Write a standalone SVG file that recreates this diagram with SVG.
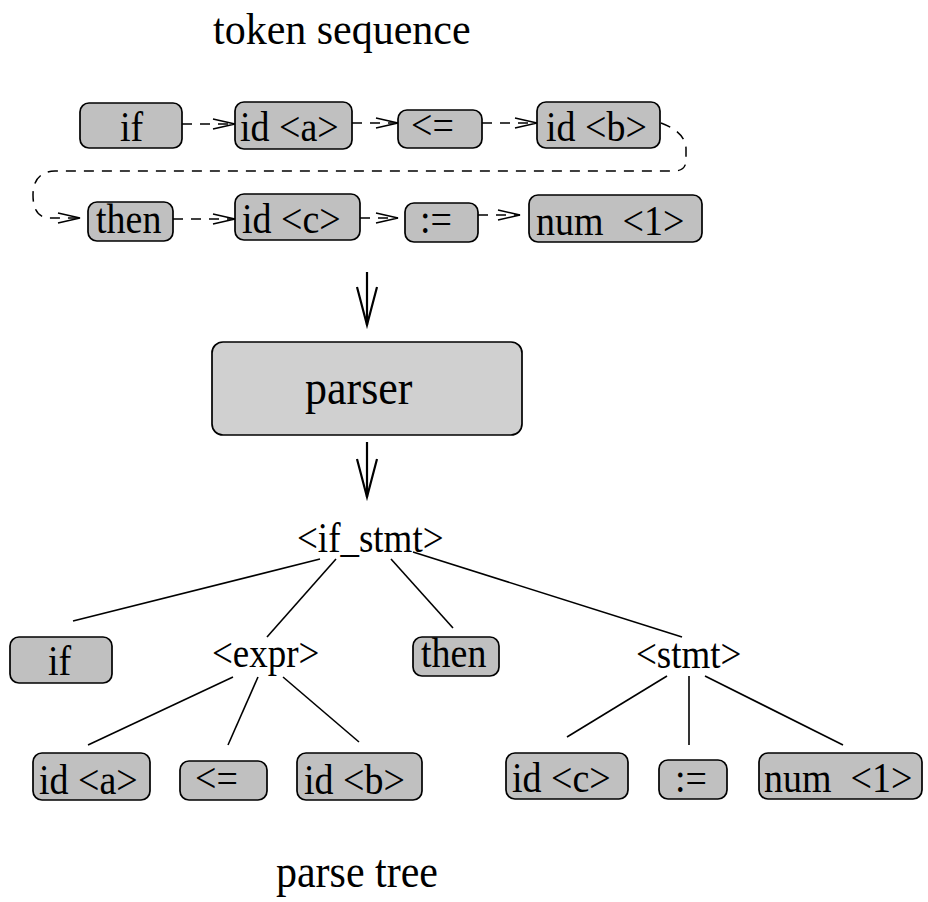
<svg xmlns="http://www.w3.org/2000/svg" width="928" height="902" viewBox="0 0 928 902">
<defs>
<style>
.tok{fill:#c0c0c0;stroke:#000;stroke-width:1.7}
.big{fill:#d0d0d0;stroke:#000;stroke-width:1.7}
text{font-family:"Liberation Serif",serif;fill:#000}
.t{font-size:38px;white-space:pre}
.lab{font-size:37px}
.title{font-size:42px}
.dash{fill:none;stroke:#000;stroke-width:1.5;stroke-dasharray:10 8}
.solid{fill:none;stroke:#000;stroke-width:1.6}
.dn{fill:none;stroke:#000;stroke-width:2.2}
</style>
<marker id="chev" markerUnits="userSpaceOnUse" markerWidth="30" markerHeight="16" viewBox="-1 -8 26 16" refX="22" refY="0" orient="auto">
<path d="M0,-5 L22,0 L0,5" fill="none" stroke="#000" stroke-width="1.5"/>
</marker>
<marker id="vee" markerUnits="userSpaceOnUse" markerWidth="46" markerHeight="30" viewBox="-2 -15 46 30" refX="38" refY="0" orient="auto">
<path d="M0,-10 L38,0 L0,10" fill="none" stroke="#000" stroke-width="2.2"/>
</marker>
</defs>
<rect width="928" height="902" fill="#fff"/>

<text class="title" transform="translate(213 44) scale(1 1.05)">token sequence</text>
<text class="title" transform="translate(276 887) scale(1 1.1)">parse tree</text>

<g id="connectors">
<path class="dash" d="M182 124 L235 124" marker-end="url(#chev)"/>
<path class="dash" d="M352 123 L398 123" marker-end="url(#chev)"/>
<path class="dash" d="M482 123 L537 123" marker-end="url(#chev)"/>
<path class="dash" d="M661 123 Q685 132 686 148 L686 160 Q686 171 674 171 L55 171 Q33 172 33 195 Q33 218 50 218 L80 218" marker-end="url(#chev)"/>
<path class="dash" d="M173 219 L235 219" marker-end="url(#chev)"/>
<path class="dash" d="M360 218 L398 218" marker-end="url(#chev)"/>
<path class="dash" d="M478 215 L520 215" marker-end="url(#chev)"/>
<path class="dn" d="M367 272 L367 325" marker-end="url(#vee)"/>
<path class="dn" d="M367 442 L367 497" marker-end="url(#vee)"/>
<path class="solid" d="M320 559 L73 621"/>
<path class="solid" d="M336 559 L267 637"/>
<path class="solid" d="M391 559 L453 628"/>
<path class="solid" d="M413 552 L682 637"/>
<path class="solid" d="M233 677 L88 745"/>
<path class="solid" d="M258 677 L228 745"/>
<path class="solid" d="M283 677 L359 742"/>
<path class="solid" d="M667 676 L567 737"/>
<path class="solid" d="M689 676 L689 745"/>
<path class="solid" d="M705 676 L843 745"/>
</g>

<g id="tok-if"><rect class="tok" x="80" y="103" width="102" height="45" rx="9"/><text class="t" transform="translate(120 141) scale(1 1.12)">if</text></g>
<g id="tok-ida"><rect class="tok" x="235" y="102" width="117" height="47" rx="9"/><text class="t" transform="translate(240 141) scale(1 1.12)">id &lt;a&gt;</text></g>
<g id="tok-le"><rect class="tok" x="398" y="110" width="84" height="38" rx="9"/><text class="t" transform="translate(411 139) scale(1 1.12)">&lt;=</text></g>
<g id="tok-idb"><rect class="tok" x="537" y="102" width="123" height="46" rx="9"/><text class="t" transform="translate(546 141) scale(1 1.12)">id &lt;b&gt;</text></g>

<g id="tok-then"><rect class="tok" x="88" y="202" width="85" height="39" rx="9"/><text class="t" transform="translate(96 233) scale(1 1.12)">then</text></g>
<g id="tok-idc"><rect class="tok" x="235" y="194" width="125" height="46" rx="9"/><text class="t" transform="translate(242 233) scale(1 1.12)">id &lt;c&gt;</text></g>
<g id="tok-assign"><rect class="tok" x="405" y="203" width="73" height="39" rx="9"/><text class="t" transform="translate(420 233) scale(1 1.12)">:=</text></g>
<g id="tok-num"><rect class="tok" x="529" y="195" width="173" height="47" rx="9"/><text class="t" transform="translate(536 235) scale(1 1.12)">num  &lt;1&gt;</text></g>

<g id="parser"><rect class="big" x="212" y="342" width="310" height="93" rx="11"/><text class="title" style="font-size:44px" transform="translate(305 404) scale(1 1.12)">parser</text></g>

<g id="n-ifstmt"><text class="lab" transform="translate(297 552) scale(1 1.12)">&lt;if_stmt&gt;</text></g>
<g id="n-if"><rect class="tok" x="10" y="637" width="102" height="46" rx="9"/><text class="t" transform="translate(48 675) scale(1 1.12)">if</text></g>
<g id="n-expr"><text class="lab" transform="translate(212 667) scale(1 1.12)">&lt;expr&gt;</text></g>
<g id="n-then"><rect class="tok" x="413" y="637" width="86" height="39" rx="9"/><text class="t" transform="translate(421 667) scale(1 1.12)">then</text></g>
<g id="n-stmt"><text class="lab" transform="translate(636 668) scale(1 1.12)">&lt;stmt&gt;</text></g>

<g id="n-ida"><rect class="tok" x="33" y="753" width="117" height="47" rx="9"/><text class="t" transform="translate(39 794) scale(1 1.12)">id &lt;a&gt;</text></g>
<g id="n-le"><rect class="tok" x="180" y="761" width="87" height="39" rx="9"/><text class="t" transform="translate(195 792) scale(1 1.12)">&lt;=</text></g>
<g id="n-idb"><rect class="tok" x="297" y="753" width="125" height="47" rx="9"/><text class="t" transform="translate(304 794) scale(1 1.12)">id &lt;b&gt;</text></g>
<g id="n-idc"><rect class="tok" x="506" y="753" width="122" height="46" rx="9"/><text class="t" transform="translate(512 792) scale(1 1.12)">id &lt;c&gt;</text></g>
<g id="n-assign"><rect class="tok" x="659" y="760" width="68" height="39" rx="9"/><text class="t" transform="translate(675 792) scale(1 1.12)">:=</text></g>
<g id="n-num"><rect class="tok" x="759" y="753" width="163" height="46" rx="9"/><text class="t" transform="translate(764 792) scale(1 1.12)">num  &lt;1&gt;</text></g>
</svg>
